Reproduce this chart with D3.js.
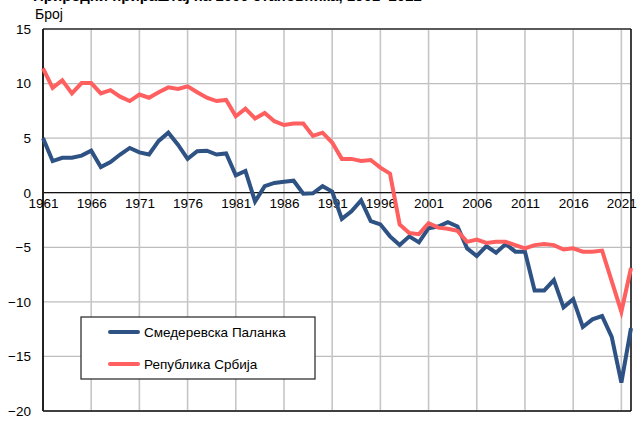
<!DOCTYPE html>
<html><head><meta charset="utf-8">
<script src="https://cdn.jsdelivr.net/npm/d3@7"></script>
<style>body{margin:0;background:#fff}svg{display:block}text{font-family:"Liberation Sans",Arial,sans-serif}</style>
</head><body><svg id="c" width="637" height="430"></svg>
<script>
const years = d3.range(1961, 2023);
const palanka = [5.0,2.9,3.2,3.2,3.4,3.85,2.35,2.8,3.5,4.1,3.7,3.5,4.75,5.5,4.4,3.1,3.8,3.85,3.5,3.6,1.6,2.0,-0.8,0.6,0.9,1.0,1.1,-0.1,-0.05,0.6,0.1,-2.4,-1.7,-0.7,-2.6,-2.9,-4.0,-4.8,-4.0,-4.55,-3.25,-3.1,-2.7,-3.1,-5.1,-5.8,-4.9,-5.5,-4.7,-5.4,-5.4,-8.95,-8.95,-8.0,-10.5,-9.75,-12.3,-11.6,-11.3,-13.2,-17.4,-12.4];
const srbija = [11.4,9.6,10.3,9.1,10.05,10.05,9.1,9.4,8.8,8.4,9.0,8.7,9.2,9.65,9.5,9.75,9.2,8.7,8.4,8.5,7.0,7.7,6.8,7.3,6.55,6.2,6.35,6.35,5.2,5.5,4.6,3.1,3.1,2.9,3.0,2.3,1.75,-2.9,-3.7,-3.8,-2.8,-3.2,-3.3,-3.5,-4.5,-4.3,-4.6,-4.5,-4.5,-4.8,-5.1,-4.8,-4.7,-4.8,-5.2,-5.1,-5.4,-5.4,-5.3,-8.1,-10.9,-6.9];
const yTicks = [15,10,5,0,-5,-10,-15,-20];
const xTicks = d3.range(1961, 2022, 5);
const seriesNames = ["Смедеревска Паланка","Република Србија"];
const colors = ["#2e5283","#ff5f5f"];

const svg = d3.select("#c");
const L=43, R=631, T=29, B=411;
const x = d3.scaleLinear().domain([1961,2022]).range([L,R]);
const y = d3.scaleLinear().domain([-20,15]).range([B,T]);

// title (clipped at top)
svg.append("text").attr("x",33).attr("y",1).attr("font-size",15).attr("font-weight","bold").attr("fill","#000")
  .text("Природни прираштај на 1000 становника, 1961–2022");
svg.append("text").attr("x",35).attr("y",19).attr("font-size",14).attr("fill","#000").text("Број");

// grid
svg.append("g").selectAll("line").data(yTicks).join("line")
  .attr("x1",L).attr("x2",R).attr("y1",d=>y(d)).attr("y2",d=>y(d))
  .attr("stroke","#bdbdbd").attr("stroke-width",1.3);
svg.append("g").selectAll("line").data(xTicks).join("line")
  .attr("x1",d=>x(d)).attr("x2",d=>x(d)).attr("y1",T).attr("y2",B)
  .attr("stroke","#c6c6c6").attr("stroke-width",1.6);
// frame
svg.append("line").attr("x1",L).attr("x2",R).attr("y1",T).attr("y2",T).attr("stroke","#333").attr("stroke-width",1.3);
svg.append("line").attr("x1",R).attr("x2",R).attr("y1",T).attr("y2",B).attr("stroke","#111").attr("stroke-width",1.6);
svg.append("line").attr("x1",L).attr("x2",R).attr("y1",B).attr("y2",B).attr("stroke","#111").attr("stroke-width",1.6);
svg.append("line").attr("x1",L).attr("x2",R).attr("y1",y(0)).attr("y2",y(0)).attr("stroke","#111").attr("stroke-width",1.3);
svg.append("line").attr("x1",L).attr("x2",L).attr("y1",T).attr("y2",B).attr("stroke","#222").attr("stroke-width",2);

// y labels
const yAxis = d3.axisLeft(y).tickValues(yTicks).tickSize(0).tickPadding(12).tickFormat(d3.format("d"));
const gy = svg.append("g").attr("transform",`translate(${L},0)`).call(yAxis);
gy.select(".domain").remove();
gy.selectAll("text").attr("font-size",13.5).attr("fill","#000").attr("font-family","Liberation Sans, Arial, sans-serif");
// x labels
const xAxis = d3.axisBottom(x).tickValues(xTicks).tickSize(0).tickPadding(6).tickFormat(d3.format("d"));
const gx = svg.append("g").attr("transform",`translate(0,${y(0)})`).call(xAxis);
gx.select(".domain").remove();
gx.selectAll("text").attr("font-size",13.5).attr("fill","#000").attr("font-family","Liberation Sans, Arial, sans-serif");

// lines
const line = d3.line().x((d,i)=>x(years[i])).y(d=>y(d));
[palanka, srbija].forEach((s,k)=>{
  svg.append("path").datum(s).attr("d",line).attr("fill","none")
    .attr("stroke",colors[k]).attr("stroke-width",4).attr("stroke-linejoin","miter");
});

// legend
const lg = svg.append("g");
lg.append("rect").attr("x",81).attr("y",317).attr("width",234).attr("height",62)
  .attr("fill","#fff").attr("stroke","#222").attr("stroke-width",1.2);
seriesNames.forEach((n,k)=>{
  const yy = 332 + k*32;
  lg.append("line").attr("x1",110).attr("x2",138).attr("y1",yy).attr("y2",yy)
    .attr("stroke",colors[k]).attr("stroke-width",4).attr("stroke-linecap","round");
  lg.append("text").attr("x",144).attr("y",yy+5).attr("font-size",13.5).attr("fill","#000").text(n);
});
</script></body></html>
